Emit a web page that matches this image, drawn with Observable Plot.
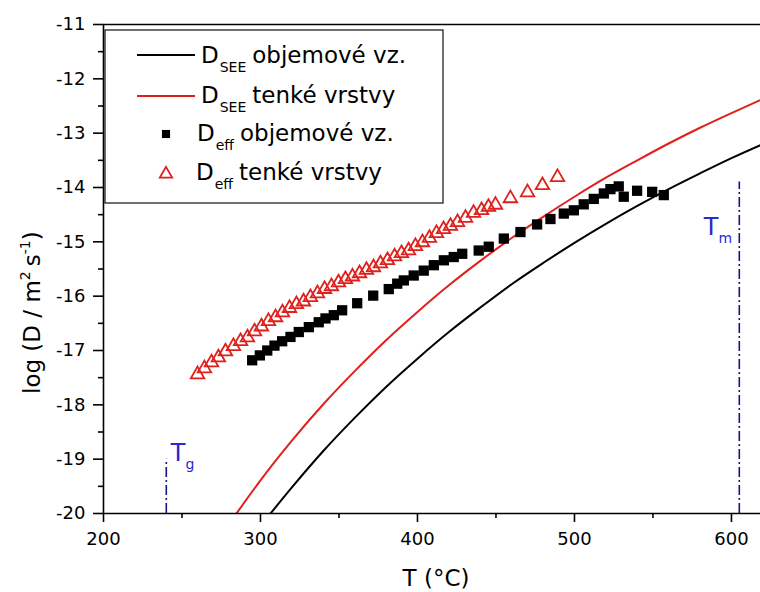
<!DOCTYPE html>
<html><head><meta charset="utf-8">
<script src="https://cdn.jsdelivr.net/npm/d3@7"></script>
<script src="https://cdn.jsdelivr.net/npm/@observablehq/plot@0.6"></script>
<style>body{margin:0;background:#fff} svg{display:block}</style>
</head><body><div id="chart"></div>
<script>
// D_eff bulk samples (black squares)
const effBulkT = [294.7,299.6,304.3,308.9,313.8,319.1,324.4,330.8,337.1,341.4,346.7,352.0,361.6,371.8,381.7,387.1,391.3,397.6,404.0,410.4,416.8,423.1,428.5,439.0,445.4,455.0,465.6,476.2,484.7,493.2,499.6,505.9,512.3,518.7,522.9,528.2,531.4,539.9,549.5,556.9];
const effBulkLogD = [-17.18,-17.09,-17.00,-16.91,-16.83,-16.75,-16.66,-16.57,-16.48,-16.41,-16.35,-16.26,-16.13,-15.99,-15.87,-15.77,-15.71,-15.62,-15.53,-15.43,-15.34,-15.28,-15.22,-15.16,-15.09,-14.94,-14.82,-14.68,-14.58,-14.48,-14.42,-14.31,-14.21,-14.11,-14.03,-13.98,-14.17,-14.06,-14.08,-14.14];
// D_eff thin films (red triangles)
const effThinT = [259.9,264.3,268.8,273.2,277.7,282.8,287.3,291.7,296.2,300.6,305.1,309.6,314.0,318.5,322.9,327.4,331.8,336.3,340.8,345.2,349.7,354.1,358.6,363.1,367.5,372.0,376.4,380.9,385.4,389.8,394.3,398.7,403.2,407.6,412.1,416.6,421.0,425.5,430.6,435.7,440.8,445.2,449.7,459.2,470.1,479.6,489.2];
const effThinLogD = [-17.44,-17.33,-17.22,-17.13,-17.02,-16.92,-16.83,-16.76,-16.65,-16.56,-16.46,-16.39,-16.30,-16.22,-16.15,-16.10,-16.02,-15.95,-15.87,-15.82,-15.75,-15.69,-15.64,-15.58,-15.52,-15.47,-15.40,-15.34,-15.27,-15.21,-15.16,-15.08,-15.01,-14.93,-14.84,-14.77,-14.71,-14.64,-14.56,-14.47,-14.42,-14.36,-14.32,-14.20,-14.09,-13.96,-13.81];
// D_SEE bulk (black curve)
const seeBulkT = [306.4,320,340,360,380,400,420,440,460,480,500,520,540,560,580,600,618.5];
const seeBulkLogD = [-20.00,-19.52,-18.85,-18.24,-17.67,-17.15,-16.66,-16.21,-15.78,-15.39,-15.02,-14.67,-14.34,-14.03,-13.74,-13.46,-13.22];
// D_SEE thin films (red curve)
const seeThinT = [284.7,300,320,340,360,380,400,420,440,460,480,500,520,540,560,580,600,618.5];
const seeThinLogD = [-20.00,-19.39,-18.66,-17.99,-17.38,-16.81,-16.29,-15.80,-15.35,-14.93,-14.54,-14.17,-13.82,-13.50,-13.19,-12.90,-12.63,-12.39];
// markers
const Tg = 240, Tm = 605;
const xMajor = [200,300,400,500,600];
const xMinor = [250,350,450,550];
const yMajor = [-20,-19,-18,-17,-16,-15,-14,-13,-12,-11];
const yMinor = [-19.5,-18.5,-17.5,-16.5,-15.5,-14.5,-13.5,-12.5,-11.5];
const legendLabels = [
  {main:"D", sub:"SEE", rest:"objemové vz."},
  {main:"D", sub:"SEE", rest:"tenké vrstvy"},
  {main:"D", sub:"eff", rest:"objemové vz."},
  {main:"D", sub:"eff", rest:"tenké vrstvy"}
];

const zip = (xs, ys) => xs.map((x,i)=>({x, y: ys[i]}));
const effBulk = zip(effBulkT, effBulkLogD);
const effThin = zip(effThinT, effThinLogD);
const seeBulk = zip(seeBulkT, seeBulkLogD);
const seeThin = zip(seeThinT, seeThinLogD);

const RED = "#e0201c", NAVY = "#14148c", BLUE = "#2a2ad0";
const FONT = "DejaVu Sans";
const SQ_R = 5.8, TRI_R = 5.0;

const plot = Plot.plot({
  width: 760, height: 592,
  marginLeft: 103, marginRight: 0, marginTop: 24, marginBottom: 79,
  style: {fontFamily: FONT, fontSize: "18px", background: "white", color: "black"},
  x: {domain: [200, 618.5]},
  y: {domain: [-20, -11]},
  marks: [
    Plot.ruleX([Tg], {y1: -20, y2: -19, stroke: NAVY, strokeWidth: 1.6, strokeDasharray: "10,3,2,3"}),
    Plot.ruleX([Tm], {y1: -20, y2: -13.9, stroke: NAVY, strokeWidth: 1.6, strokeDasharray: "10,3,2,3"}),
    Plot.line(seeBulk, {x: "x", y: "y", stroke: "black", strokeWidth: 2, curve: "monotone-x", clip: true}),
    Plot.line(seeThin, {x: "x", y: "y", stroke: RED, strokeWidth: 2, curve: "monotone-x", clip: true}),
    Plot.dot(effBulk, {x: "x", y: "y", symbol: "square", r: SQ_R, fill: "black"}),
    Plot.dot(effThin, {x: "x", y: "y", symbol: "triangle", r: TRI_R, stroke: RED, strokeWidth: 1.8, fill: "none"}),
    Plot.ruleX([200], {stroke: "black", strokeWidth: 1.6}),
    Plot.ruleY([-20], {stroke: "black", strokeWidth: 1.6}),
    Plot.ruleY([-11], {stroke: "black", strokeWidth: 1.6}),
    Plot.axisX({ticks: xMajor, tickSize: 9, tickPadding: 10, tickFormat: d => String(d), label: null, strokeWidth: 1.6, fontSize: 18}),
    Plot.axisX({ticks: xMinor, tickSize: 5, text: null, label: null, strokeWidth: 1.6}),
    Plot.axisY({ticks: yMajor, tickSize: 10, tickPadding: 8, tickFormat: d => String(d), label: null, strokeWidth: 1.6, fontSize: 18}),
    Plot.axisY({ticks: yMinor, tickSize: 5, text: null, label: null, strokeWidth: 1.6})
  ]
});

document.getElementById("chart").appendChild(plot);
const svg = d3.select(plot);
const xs = plot.scale("x"), ys = plot.scale("y");
const X = v => xs.apply(v), Y = v => ys.apply(v);

// Tg / Tm labels
function subLabel(x, y, main, sub, color) {
  const t = svg.append("text").attr("x", x).attr("y", y).attr("text-anchor", "start")
    .attr("font-family", FONT).attr("font-size", 24).attr("fill", color);
  t.append("tspan").text(main);
  t.append("tspan").attr("font-size", 14).attr("dy", 8).text(sub);
}
subLabel(X(Tg) + 5, Y(-19) + 2, "T", "g", BLUE);
subLabel(X(Tm) - 35, Y(-14) + 48, "T", "m", BLUE);

// axis titles
svg.append("text").attr("x", 436).attr("y", 586).attr("text-anchor", "middle")
  .attr("font-family", FONT).attr("font-size", 23).text("T (°C)");
const yt = svg.append("text").attr("transform", "translate(40,394) rotate(-90)")
  .attr("text-anchor", "start").attr("font-family", FONT).attr("font-size", 23);
yt.append("tspan").text("log (D / m");
yt.append("tspan").attr("font-size", 14).attr("dy", -10).text("2");
yt.append("tspan").attr("dy", 10).attr("dx", 5).text("s");
yt.append("tspan").attr("font-size", 14).attr("dy", -10).text("-1");
yt.append("tspan").attr("dy", 10).text(")");

// legend
const lg = svg.append("g").attr("text-anchor", "start");
lg.append("rect").attr("x", 105).attr("y", 30).attr("width", 338).attr("height", 173)
  .attr("fill", "white").attr("stroke", "#222").attr("stroke-width", 1.3);
const rowsY = [63, 103, 141, 180];
lg.append("line").attr("x1", 137).attr("x2", 195).attr("y1", 55).attr("y2", 55).attr("stroke", "black").attr("stroke-width", 2);
lg.append("line").attr("x1", 137).attr("x2", 195).attr("y1", 96).attr("y2", 96).attr("stroke", RED).attr("stroke-width", 2);
lg.append("path").attr("transform", "translate(166,134)").attr("d", d3.symbol(d3.symbolSquare, Math.PI * 4.6 * 4.6)()).attr("fill", "black");
lg.append("path").attr("transform", "translate(166,174)").attr("d", d3.symbol(d3.symbolTriangle, Math.PI * 4.6 * 4.6)()).attr("fill", "none").attr("stroke", RED).attr("stroke-width", 1.8);
const textX = [201, 201, 197, 196];
legendLabels.forEach((L, i) => {
  const t = lg.append("text").attr("x", textX[i]).attr("y", rowsY[i]).attr("text-anchor", "start")
    .attr("font-family", FONT).attr("font-size", 23).attr("fill", "black");
  t.append("tspan").text(L.main);
  t.append("tspan").attr("font-size", 14).attr("dy", 9).attr("dx", 1).text(L.sub);
  t.append("tspan").attr("dy", -9).attr("dx", 6).text(L.rest);
});
</script>
</body></html>
